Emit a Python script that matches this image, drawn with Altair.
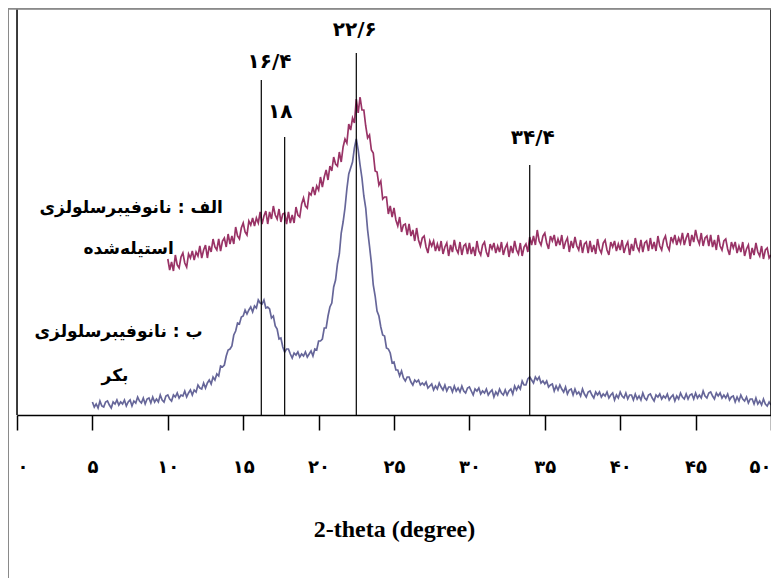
import altair as alt
import pandas as pd

# ---------------- data ----------------
# 2-theta grid start/step for each scan
acet_start, acet_step = 10.0, 0.125
virgin_start, virgin_step = 5.0, 0.125

# intensity (a.u.) of acetylated nanofibre cellulose (الف), 10 -> 50 deg
acet_vals = [
    156, 145, 153, 144, 160, 150, 147, 158,
    162, 152, 148, 161, 157, 164, 155, 163,
    159, 169, 157, 165, 170, 157, 169, 163,
    176, 168, 165, 176, 164, 174, 177, 168,
    181, 171, 179, 171, 188, 179, 176, 187,
    192, 183, 180, 194, 190, 197, 189, 197,
    192, 203, 191, 199, 204, 191, 203, 196,
    209, 200, 196, 206, 193, 201, 202, 191,
    203, 192, 200, 192, 208, 200, 198, 211,
    217, 209, 207, 222, 220, 228, 220, 229,
    225, 238, 228, 238, 245, 235, 249, 244,
    258, 251, 249, 263, 253, 268, 276, 272,
    291, 285, 297, 292, 316, 302, 318, 305,
    305, 289, 277, 280, 265, 262, 244, 243,
    230, 234, 216, 218, 218, 201, 209, 198,
    207, 195, 189, 198, 183, 190, 191, 180,
    191, 179, 185, 174, 187, 175, 169, 177,
    179, 168, 162, 174, 169, 174, 164, 171,
    164, 174, 161, 168, 172, 159, 170, 163,
    175, 166, 162, 173, 160, 169, 171, 161,
    172, 161, 168, 159, 174, 164, 160, 170,
    173, 163, 158, 171, 166, 172, 162, 169,
    163, 173, 160, 167, 171, 158, 169, 162,
    174, 165, 161, 172, 159, 168, 171, 163,
    178, 170, 179, 170, 185, 174, 170, 179,
    182, 172, 166, 179, 174, 180, 169, 176,
    170, 180, 166, 173, 177, 163, 174, 167,
    178, 169, 165, 175, 162, 171, 173, 162,
    174, 163, 170, 161, 176, 166, 162, 172,
    175, 165, 160, 173, 168, 174, 164, 171,
    165, 175, 162, 169, 173, 160, 171, 164,
    177, 168, 164, 175, 163, 172, 174, 164,
    177, 166, 173, 164, 179, 169, 165, 175,
    179, 169, 165, 178, 173, 180, 170, 177,
    172, 182, 170, 177, 182, 169, 180, 173,
    185, 176, 171, 182, 169, 177, 179, 169,
    180, 168, 175, 165, 180, 169, 165, 174,
    176, 166, 160, 173, 167, 173, 162, 169,
    163, 173, 159, 166, 170, 156, 167, 160,
    172, 163, 159, 169, 156, 165, 167, 157,
    160,
]

# intensity (a.u.) of virgin nanofibre cellulose (ب), 5 -> 50 deg
virgin_vals = [
    13, 8, 11, 7, 14, 9, 8, 13,
    14, 10, 7, 13, 11, 15, 10, 13,
    11, 15, 9, 13, 15, 9, 14, 12,
    18, 14, 12, 17, 11, 16, 17, 12,
    18, 13, 16, 13, 20, 15, 13, 19,
    20, 16, 14, 20, 18, 22, 17, 20,
    19, 24, 18, 22, 25, 20, 25, 23,
    30, 27, 26, 32, 27, 32, 35, 31,
    38, 35, 41, 39, 49, 48, 50, 59,
    65, 66, 69, 80, 84, 92, 91, 98,
    99, 105, 101, 105, 108, 103, 109, 107,
    115, 112, 111, 115, 107, 108, 106, 97,
    99, 89, 86, 76, 77, 68, 63, 66,
    66, 61, 57, 62, 60, 63, 58, 61,
    59, 63, 58, 61, 64, 59, 66, 65,
    74, 74, 76, 87, 87, 99, 108, 112,
    128, 135, 151, 161, 182, 193, 207, 226,
    241, 247, 253, 267, 276, 265, 250, 237,
    219, 207, 185, 169, 152, 130, 119, 104,
    99, 88, 80, 79, 67, 66, 62, 52,
    53, 45, 45, 39, 44, 37, 34, 38,
    38, 33, 30, 35, 33, 35, 30, 32,
    30, 33, 27, 29, 31, 25, 29, 26,
    32, 28, 25, 30, 24, 28, 28, 23,
    29, 24, 27, 23, 29, 24, 22, 27,
    28, 24, 20, 26, 24, 27, 21, 24,
    22, 26, 20, 23, 25, 18, 23, 20,
    26, 22, 20, 25, 20, 24, 26, 21,
    29, 25, 29, 26, 34, 30, 30, 36,
    38, 35, 32, 38, 35, 38, 32, 34,
    31, 34, 28, 30, 31, 24, 29, 25,
    30, 26, 23, 28, 21, 25, 26, 20,
    26, 21, 23, 19, 26, 21, 18, 23,
    24, 20, 17, 23, 20, 23, 18, 21,
    19, 23, 17, 20, 22, 15, 20, 17,
    23, 19, 17, 22, 16, 20, 20, 15,
    21, 16, 19, 15, 22, 17, 15, 20,
    21, 17, 14, 20, 18, 21, 16, 19,
    17, 21, 15, 18, 20, 14, 19, 16,
    22, 18, 16, 21, 16, 20, 21, 16,
    22, 17, 20, 17, 24, 19, 17, 22,
    23, 19, 16, 22, 19, 22, 17, 20,
    17, 21, 15, 18, 19, 13, 18, 14,
    20, 16, 14, 18, 12, 16, 16, 11,
    17, 11, 14, 10, 16, 11, 9, 13,
    10,
]

# marked peaks
peak_labels = ["۱۶/۴", "۱۸", "۲۲/۶", "۳۴/۴"]
peak_pos = [16.2, 17.75, 22.5, 34.0]          # where the drop lines stand
peak_top = [335, 278, 362, 250]               # top of each drop line
peak_label_x = [16.75, 17.45, 22.4, 34.2]
peak_label_y = [353, 303, 385, 277]

# series captions
cap_text = ["الف : نانوفیبرسلولزی", "استیله‌شده", "ب : نانوفیبرسلولزی", "بکر"]
cap_x = [13.65, 7.4, 12.3, 6.5]
cap_y = [207, 166, 83, 39]
cap_align = ["right", "center", "right", "center"]

tick_values = [0, 5, 10, 15, 20, 25, 30, 35, 40, 45, 50]
tick_labels = ["۰", "۵", "۱۰", "۱۵", "۲۰", "۲۵", "۳۰", "۳۵", "۴۰", "۴۵", "۵۰"]

x_title = "2-theta (degree)"
col_acet = "#993366"
col_virgin = "#666699"

# ---------------- tables ----------------
acet = pd.DataFrame({"x": [acet_start + acet_step * i for i in range(len(acet_vals))],
                     "y": acet_vals})
virgin = pd.DataFrame({"x": [virgin_start + virgin_step * i for i in range(len(virgin_vals))],
                       "y": virgin_vals})
peaks = pd.DataFrame({"x": peak_pos, "top": peak_top, "base": [0] * len(peak_pos)})
plabels = pd.DataFrame({"x": peak_label_x, "y": peak_label_y, "t": peak_labels})
caps = pd.DataFrame({"x": cap_x, "y": cap_y, "t": cap_text, "a": cap_align})
edges = pd.DataFrame({"x": [0, 50], "y0": [0, 0]})

label_expr = "".join(f"datum.value == {v} ? '{l}' : " for v, l in zip(tick_values, tick_labels)) + "''"

xs = alt.Scale(domain=[0, 50], nice=False)
ys = alt.Scale(domain=[0, 406], nice=False)

x_axis = alt.Axis(values=tick_values, labelExpr=label_expr, grid=False,
                  domainColor="black", domainWidth=1.5, tickColor="black", tickWidth=1.5,
                  tickSize=15, labelFont="DejaVu Sans", labelFontWeight="bold",
                  labelFontSize=18, labelColor="black", labelPadding=28,
                  title=x_title, titleFont="Liberation Serif", titleFontSize=24,
                  titleFontWeight="bold", titleColor="black", titlePadding=41)

line_acet = alt.Chart(acet).mark_line(color=col_acet, strokeWidth=1.7, clip=True).encode(
    x=alt.X("x:Q", scale=xs, axis=x_axis),
    y=alt.Y("y:Q", scale=ys, axis=None),
)
line_virgin = alt.Chart(virgin).mark_line(color=col_virgin, strokeWidth=1.7, clip=True).encode(
    x=alt.X("x:Q", scale=xs),
    y=alt.Y("y:Q", scale=ys),
)
drop = alt.Chart(peaks).mark_rule(color="black", strokeWidth=1.2).encode(
    x=alt.X("x:Q", scale=xs), y=alt.Y("top:Q", scale=ys), y2="base:Q"
)
drop_text = alt.Chart(plabels).mark_text(font="DejaVu Sans", fontWeight="bold", fontSize=20,
                                         color="black", baseline="middle").encode(
    x=alt.X("x:Q", scale=xs), y=alt.Y("y:Q", scale=ys), text="t:N"
)
cap_r = alt.Chart(caps).transform_filter("datum.a == 'right'").mark_text(
    font="DejaVu Sans", fontWeight="bold", fontSize=17, color="black",
    align="right", baseline="middle").encode(
    x=alt.X("x:Q", scale=xs), y=alt.Y("y:Q", scale=ys), text="t:N")
cap_c = alt.Chart(caps).transform_filter("datum.a == 'center'").mark_text(
    font="DejaVu Sans", fontWeight="bold", fontSize=17, color="black",
    align="center", baseline="middle").encode(
    x=alt.X("x:Q", scale=xs), y=alt.Y("y:Q", scale=ys), text="t:N")

# plot-area side borders
sides = alt.Chart(edges).mark_rule(color="black", strokeWidth=1.5).encode(
    x=alt.X("x:Q", scale=xs), y=alt.Y("y0:Q", scale=ys), y2=alt.value(0)
)
# outer chart frame (grey)
frame_top = alt.Chart(edges).mark_rule(color="#8a8a8a", strokeWidth=2).encode(
    x=alt.value(-9), x2=alt.value(900), y=alt.value(-0.5)
)
frame_left = alt.Chart(edges).mark_rule(color="#8a8a8a", strokeWidth=2).encode(
    x=alt.value(-9), y=alt.value(-1), y2=alt.value(900)
)

chart = alt.layer(
    line_acet, line_virgin, drop, sides, drop_text, cap_r, cap_c, frame_top, frame_left
).properties(
    width=754, height=406,
    padding={"left": 9, "top": 1, "right": 0, "bottom": 163},
    autosize=alt.AutoSizeParams(type="none"),
).configure_view(stroke=None).configure(background="white")

chart.save("out.html", embed_options={"renderer": "svg", "actions": False})
